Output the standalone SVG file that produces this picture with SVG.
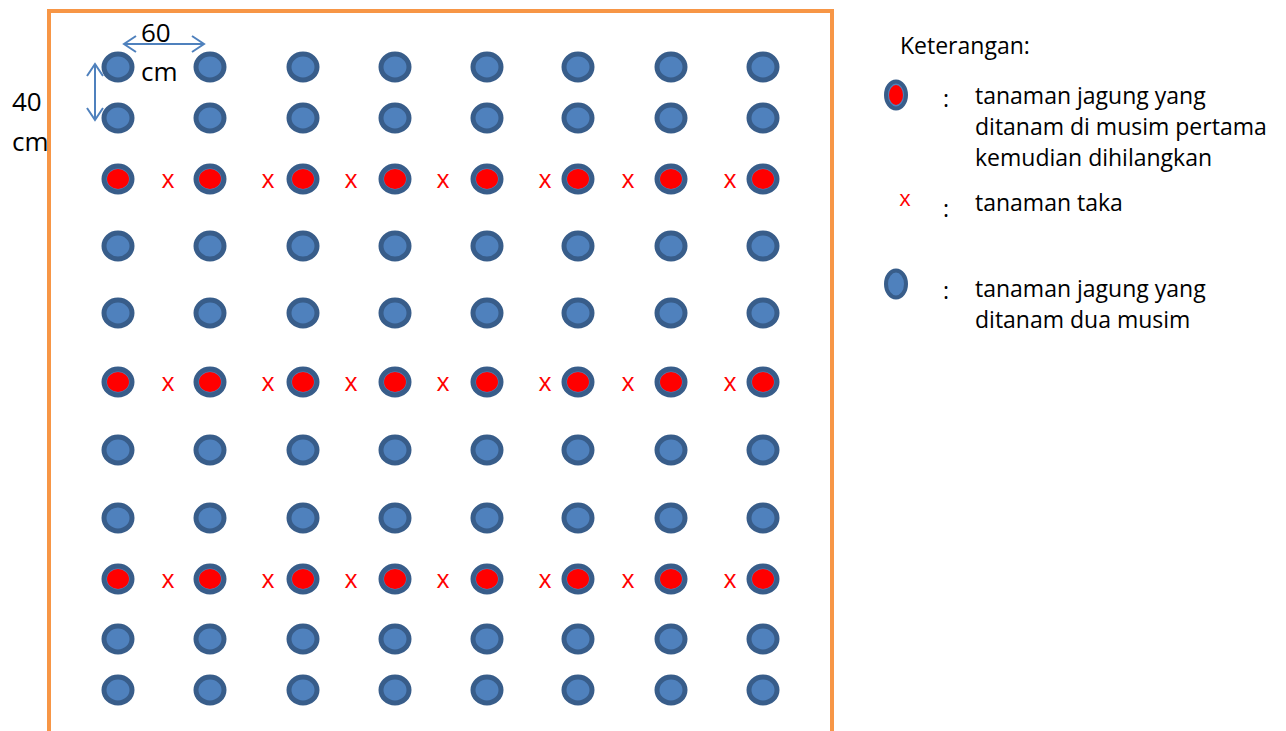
<svg xmlns="http://www.w3.org/2000/svg" width="1286" height="731" viewBox="0 0 1286 731">
<defs>
<style>
.pl{fill:#4F81BD;stroke:#385D8A;stroke-width:5}
.rd{fill:#FF0000}
.x{fill:#FF0000;font-family:"Open Sans","Liberation Sans",sans-serif;font-size:25px;text-anchor:middle}
.t{fill:#000;font-family:"Open Sans","Liberation Sans",sans-serif;font-size:23px}
.big{fill:#000;font-family:"Open Sans","Liberation Sans",sans-serif;font-size:26px}
.arr{stroke:#4F81BD;stroke-width:2;fill:none}
</style>
<g id="b"><ellipse class="pl" cx="0" cy="0" rx="14" ry="13"/></g>
<g id="r"><ellipse class="pl" cx="0" cy="0" rx="14" ry="13"/><ellipse class="rd" cx="0" cy="0" rx="11" ry="10"/></g>
</defs>
<g id="border"><path d="M49,731 V11 H832 V731" fill="none" stroke="#F79646" stroke-width="4"/></g>
<g id="plants">
<g id="row1"><use href="#b" x="118" y="67"/><use href="#b" x="210" y="67"/><use href="#b" x="303" y="67"/><use href="#b" x="395" y="67"/><use href="#b" x="487" y="67"/><use href="#b" x="578" y="67"/><use href="#b" x="671" y="67"/><use href="#b" x="763" y="67"/></g>
<g id="row2"><use href="#b" x="118" y="118"/><use href="#b" x="210" y="118"/><use href="#b" x="303" y="118"/><use href="#b" x="395" y="118"/><use href="#b" x="487" y="118"/><use href="#b" x="578" y="118"/><use href="#b" x="671" y="118"/><use href="#b" x="763" y="118"/></g>
<g id="row3"><use href="#r" x="118" y="179"/><use href="#r" x="210" y="179"/><use href="#r" x="303" y="179"/><use href="#r" x="395" y="179"/><use href="#r" x="487" y="179"/><use href="#r" x="578" y="179"/><use href="#r" x="671" y="179"/><use href="#r" x="763" y="179"/>
<text class="x" x="168" y="188">x</text><text class="x" x="268" y="188">x</text><text class="x" x="351" y="188">x</text><text class="x" x="443" y="188">x</text><text class="x" x="545" y="188">x</text><text class="x" x="628" y="188">x</text><text class="x" x="730" y="188">x</text></g>
<g id="row4"><use href="#b" x="118" y="246"/><use href="#b" x="210" y="246"/><use href="#b" x="303" y="246"/><use href="#b" x="395" y="246"/><use href="#b" x="487" y="246"/><use href="#b" x="578" y="246"/><use href="#b" x="671" y="246"/><use href="#b" x="763" y="246"/></g>
<g id="row5"><use href="#b" x="118" y="313"/><use href="#b" x="210" y="313"/><use href="#b" x="303" y="313"/><use href="#b" x="395" y="313"/><use href="#b" x="487" y="313"/><use href="#b" x="578" y="313"/><use href="#b" x="671" y="313"/><use href="#b" x="763" y="313"/></g>
<g id="row6"><use href="#r" x="118" y="382"/><use href="#r" x="210" y="382"/><use href="#r" x="303" y="382"/><use href="#r" x="395" y="382"/><use href="#r" x="487" y="382"/><use href="#r" x="578" y="382"/><use href="#r" x="671" y="382"/><use href="#r" x="763" y="382"/>
<text class="x" x="168" y="391">x</text><text class="x" x="268" y="391">x</text><text class="x" x="351" y="391">x</text><text class="x" x="443" y="391">x</text><text class="x" x="545" y="391">x</text><text class="x" x="628" y="391">x</text><text class="x" x="730" y="391">x</text></g>
<g id="row7"><use href="#b" x="118" y="450"/><use href="#b" x="210" y="450"/><use href="#b" x="303" y="450"/><use href="#b" x="395" y="450"/><use href="#b" x="487" y="450"/><use href="#b" x="578" y="450"/><use href="#b" x="671" y="450"/><use href="#b" x="763" y="450"/></g>
<g id="row8"><use href="#b" x="118" y="518"/><use href="#b" x="210" y="518"/><use href="#b" x="303" y="518"/><use href="#b" x="395" y="518"/><use href="#b" x="487" y="518"/><use href="#b" x="578" y="518"/><use href="#b" x="671" y="518"/><use href="#b" x="763" y="518"/></g>
<g id="row9"><use href="#r" x="118" y="579"/><use href="#r" x="210" y="579"/><use href="#r" x="303" y="579"/><use href="#r" x="395" y="579"/><use href="#r" x="487" y="579"/><use href="#r" x="578" y="579"/><use href="#r" x="671" y="579"/><use href="#r" x="763" y="579"/>
<text class="x" x="168" y="588">x</text><text class="x" x="268" y="588">x</text><text class="x" x="351" y="588">x</text><text class="x" x="443" y="588">x</text><text class="x" x="545" y="588">x</text><text class="x" x="628" y="588">x</text><text class="x" x="730" y="588">x</text></g>
<g id="row10"><use href="#b" x="118" y="639"/><use href="#b" x="210" y="639"/><use href="#b" x="303" y="639"/><use href="#b" x="395" y="639"/><use href="#b" x="487" y="639"/><use href="#b" x="578" y="639"/><use href="#b" x="671" y="639"/><use href="#b" x="763" y="639"/></g>
<g id="row11"><use href="#b" x="118" y="690"/><use href="#b" x="210" y="690"/><use href="#b" x="303" y="690"/><use href="#b" x="395" y="690"/><use href="#b" x="487" y="690"/><use href="#b" x="578" y="690"/><use href="#b" x="671" y="690"/><use href="#b" x="763" y="690"/></g>
</g>
<g id="connectors">
<path class="arr" d="M124,44 H204 M136,36 L124,44 L136,52 M192,36 L204,44 L192,52"/>
<path class="arr" d="M95,64 V120 M87,76 L95,64 L103,76 M87,108 L95,120 L103,108"/>
</g>
<g id="dims">
<text class="big" x="141" y="42">60</text>
<text class="big" x="141" y="81">cm</text>
<text class="big" x="12" y="111">40</text>
<text class="big" x="12" y="151">cm</text>
</g>
<g id="legend">
<text class="t" x="900" y="54">Keterangan:</text>
<g id="leg-red"><ellipse class="pl" cx="896" cy="95" rx="10" ry="13.5" style="stroke-width:4"/><ellipse class="rd" cx="896" cy="95" rx="7" ry="10"/></g>
<text class="t" x="943" y="107">:</text>
<text class="t" x="975" y="104">tanaman jagung yang</text>
<text class="t" x="975" y="135">ditanam di musim pertama</text>
<text class="t" x="975" y="166">kemudian dihilangkan</text>
<text class="x" x="905" y="206" style="font-size:22px">x</text>
<text class="t" x="943" y="217">:</text>
<text class="t" x="975" y="211">tanaman taka</text>
<g id="leg-blue"><ellipse class="pl" cx="896" cy="284" rx="10" ry="13.5" style="stroke-width:4"/></g>
<text class="t" x="943" y="299">:</text>
<text class="t" x="975" y="297">tanaman jagung yang</text>
<text class="t" x="975" y="328">ditanam dua musim</text>
</g>
</svg>
